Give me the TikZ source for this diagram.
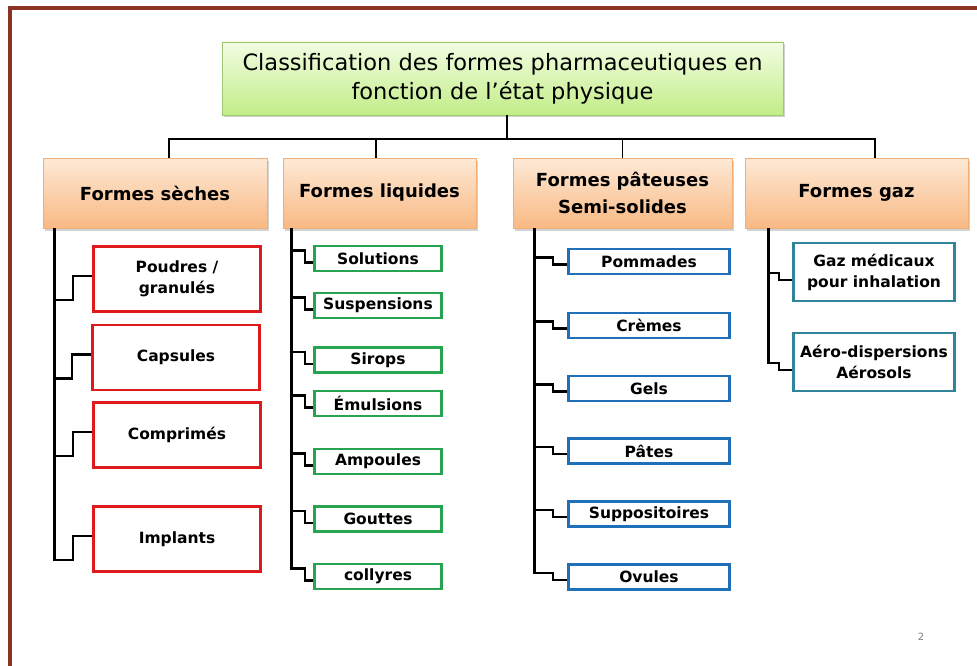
\documentclass[tikz,border=0pt]{standalone}
\usepackage{fontspec}
\setmainfont{DejaVu Sans}
\usetikzlibrary{shadows,calc}
\definecolor{framec}{RGB}{140,52,35}
\definecolor{redc}{RGB}{222,26,28}
\definecolor{greenc}{RGB}{38,164,80}
\definecolor{bluec}{RGB}{31,112,184}
\definecolor{tealc}{RGB}{49,133,155}
\definecolor{orangetop}{RGB}{253,233,214}
\definecolor{orangebot}{RGB}{249,185,132}
\definecolor{orangeln}{RGB}{240,175,120}
\definecolor{greentop}{RGB}{242,253,226}
\definecolor{greenbot}{RGB}{194,237,136}
\definecolor{greenln}{RGB}{160,200,110}
\tikzset{
  conn/.style={draw=black, line width=2.3pt},
  bus/.style={draw=black, line width=1.6pt},
  titlebox/.style={draw=greenln, line width=0.8pt, top color=greentop, bottom color=greenbot,
    drop shadow={shadow xshift=2pt, shadow yshift=-2.5pt, opacity=.35},
    align=center, font=\fontsize{22.5}{29}\selectfont, inner sep=0pt},
  catbox/.style={draw=orangeln, line width=0.8pt, top color=orangetop, bottom color=orangebot,
    drop shadow={shadow xshift=2pt, shadow yshift=-2.5pt, opacity=.35},
    align=center, font=\fontsize{18}{27}\selectfont\bfseries, inner sep=0pt, minimum height=70pt},
  itembox/.style={fill=white, line width=2.6pt, align=center, inner sep=0pt,
    font=\fontsize{15.5}{21}\selectfont\bfseries},
  redbox/.style={itembox, draw=redc, minimum width=167pt, minimum height=65pt},
  greenbox/.style={itembox, draw=greenc, minimum width=127pt, minimum height=25pt},
  bluebox/.style={itembox, draw=bluec, minimum width=161pt, minimum height=25pt},
  tealbox/.style={itembox, draw=tealc, minimum width=161pt, minimum height=58pt},
}
\begin{document}
\begin{tikzpicture}[x=1pt,y=-1pt]
\useasboundingbox (0,0) rectangle (977,666);
\fill[white] (0,0) rectangle (977,666);
\draw[framec, line width=4pt] (10,667) -- (10,8) -- (978,8);

% title
\node[titlebox, minimum width=561pt, minimum height=73pt] (title) at (502.5,78.5)
  {Classification des formes pharmaceutiques en\\fonction de l'état physique};

% categories
\node[catbox, minimum width=224pt] (sec) at (155,193) {Formes sèches};
\node[catbox, minimum width=193pt] (liq) at (379.5,193) {Formes liquides};
\node[catbox, minimum width=219pt] (pat) at (622.5,193) {Formes pâteuses\\Semi-solides};
\node[catbox, minimum width=223pt] (gaz) at (856.5,193) {Formes gaz};

\coordinate (busc) at (507,139);
\draw[bus] ([xshift=4.5pt]title.south) -- (busc);
\draw[bus] ([xshift=14pt]sec.north) |- (busc);
\draw[bus] ([xshift=-3.5pt]liq.north) |- (busc);
\draw[bus] (pat.north) |- (busc);
\draw[bus] ([xshift=18.5pt]gaz.north) |- (busc);

% formes seches
\node[redbox] (s1) at (177,279) {Poudres /\\granulés};
\node[redbox] (s2) at (176,357.5) {Capsules};
\node[redbox] (s3) at (177,435) {Comprimés};
\node[redbox] (s4) at (177,539) {Implants};
\foreach \n in {s1,s2,s3,s4}
  \draw[conn] ([yshift=3pt]\n.west) -- ++(-19,0) -- ++(0,24) -| ([xshift=12pt]sec.south west);

% formes liquides
\node[greenbox] (l1) at (378,258.5) {Solutions};
\node[greenbox] (l2) at (378,305.5) {Suspensions};
\node[greenbox] (l3) at (378,360) {Sirops};
\node[greenbox] (l4) at (378,403.5) {Émulsions};
\node[greenbox] (l5) at (378,461.5) {Ampoules};
\node[greenbox] (l6) at (378,519) {Gouttes};
\node[greenbox] (l7) at (378,576.5) {collyres};
\foreach \n in {l1,l2,l3,l4,l5,l6,l7}
  \draw[conn] ([yshift=-4pt]\n.west) -- ++(-8,0) -- ++(0,-12) -| ([xshift=9pt]liq.south west);

% formes pateuses
\node[bluebox] (p1) at (649,261.5) {Pommades};
\node[bluebox] (p2) at (649,325.5) {Crèmes};
\node[bluebox] (p3) at (649,388.5) {Gels};
\node[bluebox] (p4) at (649,451) {Pâtes};
\node[bluebox] (p5) at (649,514) {Suppositoires};
\node[bluebox] (p6) at (649,577) {Ovules};
\foreach \n in {p1,p2,p3,p4,p5,p6}
  \draw[conn] ([yshift=-3pt]\n.west) -- ++(-14,0) -- ++(0,-7) -| ([xshift=22pt]pat.south west);

% formes gaz
\node[tealbox] (g1) at (874,272) {Gaz médicaux\\pour inhalation};
\node[tealbox] (g2) at (874,362) {Aéro-dispersions\\Aérosols};
\foreach \n in {g1,g2}
  \draw[conn] ([yshift=-8pt]\n.west) -- ++(-13,0) -- ++(0,-7) -| ([xshift=24pt]gaz.south west);

\node[text=gray, font=\fontsize{10}{12}\selectfont] (pg) at (921,637) {2};
\end{tikzpicture}
\end{document}
